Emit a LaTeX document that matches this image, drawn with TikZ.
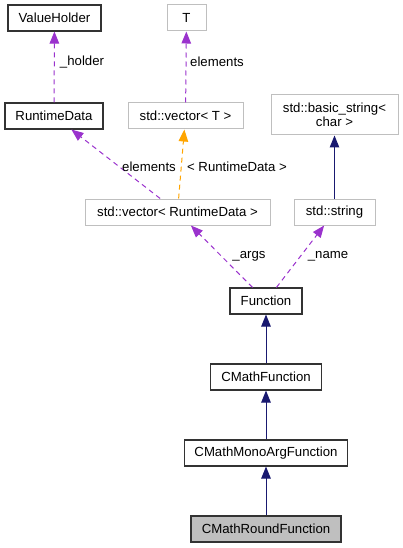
\documentclass[tikz,border=0pt]{standalone}
\usepackage{fontspec}
\setmainfont{Liberation Sans}
\usetikzlibrary{arrows.meta}
\definecolor{usecol}{HTML}{9A32CD}
\definecolor{tmplcol}{HTML}{FFA500}
\definecolor{inhcol}{HTML}{191970}
\definecolor{greyb}{HTML}{BFBFBF}
\begin{document}
\begin{tikzpicture}[x=1pt,y=-1pt,
  cls/.style={draw=black!80,line width=1.1pt,inner sep=0pt,font=\fontsize{13.2}{14.5}\selectfont,align=center,minimum height=26pt},
  ext/.style={draw=greyb,line width=1pt,inner sep=0pt,font=\fontsize{13.2}{14.5}\selectfont,align=center,minimum height=26pt},
  usage/.style={draw=usecol,line width=1pt,dash pattern=on 5pt off 4pt,-{Triangle[length=12pt,width=9.5pt,fill=usecol]}},
  tmpl/.style={draw=tmplcol,line width=1pt,dash pattern=on 5pt off 4pt,-{Triangle[length=12pt,width=9.5pt,fill=tmplcol]}},
  inh/.style={draw=inhcol,line width=1pt,-{Triangle[length=12pt,width=9.5pt,fill=inhcol]}},
  lbl/.style={font=\fontsize{13.2}{14.5}\selectfont,inner sep=0pt}]
\useasboundingbox (0,0) rectangle (403,548);
\node[cls,minimum width=93pt] (vh) at (54.5,18) {ValueHolder};
\node[ext,minimum width=39pt] (t) at (186.5,18) {T};
\node[cls,minimum width=98pt] (rd) at (54,116) {RuntimeData};
\node[ext,minimum width=115pt] (vt) at (185.5,116) {std::vector{<} T {>}};
\node[ext,minimum width=127pt,minimum height=40pt] (bs) at (334.5,115) {std::basic\_string{<}\\char {>}};
\node[ext,minimum width=185pt] (vr) at (177.5,212) {std::vector{<} RuntimeData {>}};
\node[ext,minimum width=81pt] (str) at (334.5,212) {std::string};
\node[cls,minimum width=72pt] (fn) at (266,301) {Function};
\node[cls,minimum width=111pt] (cmf) at (266,377) {CMathFunction};
\node[cls,minimum width=163pt] (cmm) at (266,453) {CMathMonoArgFunction};
\node[cls,minimum width=150pt,fill=greyb] (cmr) at (266,529) {CMathRoundFunction};
\draw[usage] (rd) -- (vh);
\node[lbl] at (82,62) {\_holder};
\draw[usage] (vt) -- (t);
\node[lbl] at (217,62) {elements};
\draw[usage] (vr) -- (rd);
\node[lbl] at (149,167) {elements};
\draw[tmpl] (vr) -- (vt);
\node[lbl] at (237,167) {{<} RuntimeData {>}};
\draw[inh] (str) -- (bs);
\draw[usage] (fn) -- (vr);
\node[lbl] at (249,256) {\_args};
\draw[usage] (fn) -- (str);
\node[lbl] at (328,256) {\_name};
\draw[inh] (cmf) -- (fn);
\draw[inh] (cmm) -- (cmf);
\draw[inh] (cmr) -- (cmm);
\end{tikzpicture}
\end{document}
